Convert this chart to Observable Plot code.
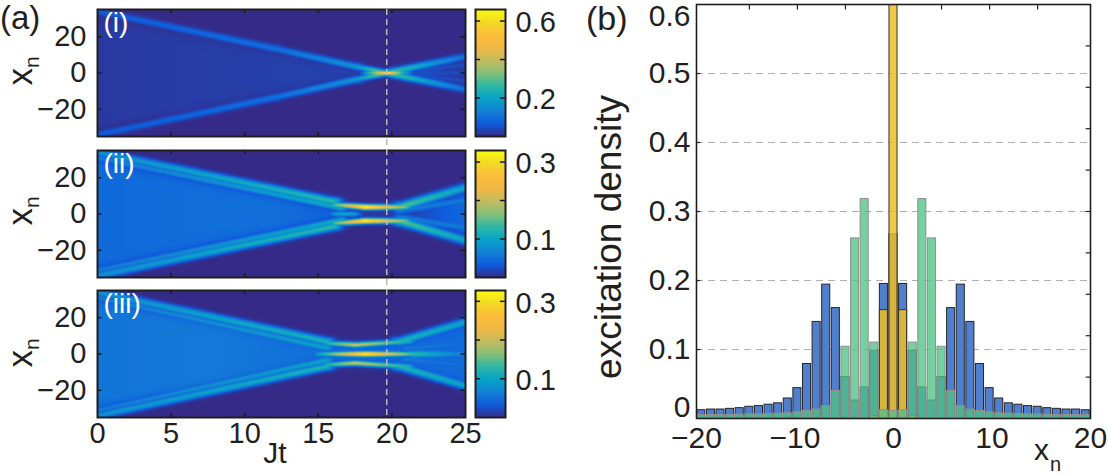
<!DOCTYPE html>
<html><head><meta charset="utf-8">
<script src="https://cdn.jsdelivr.net/npm/d3@7"></script>
<script src="https://cdn.jsdelivr.net/npm/@observablehq/plot@0.6"></script>
<style>
body{margin:0;background:#fff;}
#fig{position:relative;width:1108px;height:475px;overflow:hidden;font-family:"Liberation Sans",Arial,sans-serif;color:#231f20;}
#fig > div{position:absolute;}
#fig svg{background:transparent;overflow:visible;max-width:none;}
</style></head><body><div id="fig"></div><script>
// ---------------- DATA ----------------
// colour map (parula-like) stops
const cmapStops = [0, 0.1, 0.2, 0.3, 0.4, 0.5, 0.6, 0.7, 0.8, 0.9, 1];
const cmapColors = ["#352a87","#0f5cdd","#1481d6","#06a4ca","#2eb7a4","#87bf77","#c4bc5f","#f0b844","#fcbd3a","#f3da26","#f9fb0e"];

// panel (a) axes
const jtTicks = [0, 5, 10, 15, 20, 25];
const xnTicks = [-20, 0, 20];
const markTime = [19.65];              // dashed line, Jt
const panelNames = ["(i)", "(ii)", "(iii)"];
const cbMax = [0.66, 0.33, 0.328];
const cbTicksI = [0.2, 0.4, 0.6], cbLabelsI = [0.2, 0.6];
const cbTicksII = [0.1, 0.2, 0.3], cbLabelsII = [0.1, 0.3];
const cbTicksIII = [0.1, 0.2, 0.3], cbLabelsIII = [0.1, 0.3];

// beams: [Jt1, xn1, Jt2, xn2, value1, value2, width] (upper half; lower half mirrored)
const beamsI = [
  [0, 34, 12, 13.5, 0.065, 0.10, 1.4],
  [12, 13.5, 17.5, 3.6, 0.10, 0.17, 1.3],
  [17.5, 3.6, 19.6, 0, 0.17, 0.36, 1.1],
  [18.6, 0, 19.7, 0, 0.30, 0.66, 0.8],
  [19.7, 0, 20.8, 0, 0.66, 0.22, 0.8],
  [19.6, 0, 25, 9, 0.30, 0.10, 1.3],
  [20.6, 0, 25, 4.5, 0.05, 0.045, 1.2],
  [20.6, 0, 25, 0, 0.05, 0.04, 1.6]
];
const coneI = [[0, 31, 0.02], [16, 5, 0.03], [18, 1.5, 0.03]];

const beamsII = [
  [0, 34, 16, 7, 0.08, 0.13, 1.5],
  [0, 31, 16.5, 3.5, 0.06, 0.11, 1.4],
  [16.3, 5, 18.2, 3.8, 0.16, 0.33, 1.0],
  [18.2, 3.8, 20.8, 3.8, 0.33, 0.17, 1.0],
  [20.6, 4, 25, 14.5, 0.15, 0.10, 1.7],
  [20.6, 2, 25, 7.5, 0.06, 0.06, 1.6],
  [16.3, 0, 17.3, 0, 0.10, 0.10, 1.0]
];
const coneII = [[0, 30, 0.045], [6, 19.5, 0.048], [12, 9.5, 0.05], [16, 3, 0.04], [17, 1.5, 0.015], [21, 1.5, 0.015], [25, 12, 0.045]];

const beamsIII = [
  [0, 34, 15.5, 7, 0.08, 0.12, 1.5],
  [0, 31, 15.5, 3.5, 0.06, 0.10, 1.4],
  [15.2, 0, 18.2, 0, 0.11, 0.325, 1.0],
  [18.2, 0, 21.5, 0, 0.325, 0.13, 1.0],
  [21.5, 0, 25, 0, 0.13, 0.06, 1.5],
  [15.8, 5.8, 17.5, 5, 0.13, 0.21, 1.0],
  [17.5, 5, 21, 6.8, 0.21, 0.12, 1.0],
  [20.5, 6.8, 25, 17.5, 0.12, 0.10, 1.6],
  [21, 3, 25, 6, 0.06, 0.05, 1.5]
];
const coneIII = [[0, 30, 0.055], [8, 17, 0.058], [15, 5, 0.05], [20, 6, 0.045], [25, 16, 0.045]];

// panel (b) bars
const sites = [-20,-19,-18,-17,-16,-15,-14,-13,-12,-11,-10,-9,-8,-7,-6,-5,-4,-3,-2,-1,0,1,2,3,4,5,6,7,8,9,10,11,12,13,14,15,16,17,18,19,20];
const blueVals = [0.012,0.013,0.013,0.014,0.015,0.017,0.018,0.020,0.022,0.029,0.044,0.079,0.140,0.194,0.160,0.060,0.026,0.045,0.098,0.195,0.267,0.195,0.098,0.045,0.026,0.060,0.160,0.194,0.140,0.079,0.044,0.029,0.022,0.020,0.018,0.017,0.015,0.014,0.013,0.013,0.012];
const greenVals = [0.005,0.005,0.005,0.005,0.0055,0.006,0.006,0.0065,0.007,0.0075,0.009,0.011,0.013,0.018,0.040,0.104,0.261,0.318,0.110,0.012,0.011,0.012,0.110,0.318,0.261,0.104,0.040,0.018,0.013,0.011,0.009,0.0075,0.007,0.0065,0.006,0.006,0.0055,0.005,0.005,0.005,0.005];
const yellowVals = [0,0,0,0,0,0,0,0,0,0,0,0,0,0,0,0,0,0,0.004,0.157,0.65,0.157,0.004,0,0,0,0,0,0,0,0,0,0,0,0,0,0,0,0,0,0];
const yLabelVals = [0.1, 0.2, 0.3, 0.4, 0.5];
const yTopLabel = [0.6], yZeroLabel = [0];
const gridVals = [0.1, 0.2, 0.3, 0.4, 0.5];
const leftTickVals = [0.1, 0.2, 0.3, 0.4, 0.5];
const rightTickVals = [0.06, 0.12, 0.18, 0.24, 0.30, 0.36, 0.42, 0.48, 0.54];
const topTickSites = [-15, -10, -5, 5, 10, 15];
const xTickVals = [-20, -10, 0, 10, 20];
const siteScale = 41 / 40;  // lattice sites per x_n unit on the bottom axis

// ---------------- HELPERS ----------------
const FONT = "Liberation Sans, Arial, sans-serif";
const fmt = d => (d < 0 ? "\u2212" : "") + Math.abs(d);
const fig = document.getElementById("fig");
function place(el, left, top) {
  const div = document.createElement("div");
  div.style.left = left + "px"; div.style.top = top + "px";
  div.appendChild(el); fig.appendChild(div);
}
function colorScale(max) {
  return {type: "linear", domain: cmapStops.map(s => s * max), range: cmapColors, clamp: true, interpolate: "rgb"};
}
function withMirror(beams) {
  const out = [];
  for (const b of beams) {
    out.push(b);
    if (b[1] !== 0 || b[3] !== 0) out.push([b[0], -b[1], b[2], -b[3], b[4], b[5], b[6]]);
  }
  return out;
}
function coneAt(cone, t, x) {
  if (t < cone[0][0] || t > cone[cone.length - 1][0]) return 0;
  let i = 0;
  while (i < cone.length - 2 && t > cone[i + 1][0]) i++;
  const a = cone[i], b = cone[i + 1];
  const s = b[0] === a[0] ? 0 : (t - a[0]) / (b[0] - a[0]);
  const half = a[1] + s * (b[1] - a[1]);
  const val = a[2] + s * (b[2] - a[2]);
  return val / (1 + Math.exp((Math.abs(x) - half) / 1.2));
}
function field(beamsHalf, cone) {
  const beams = withMirror(beamsHalf);
  return (t, x) => {
    let v = coneAt(cone, t, x);
    for (const [t1, x1, t2, x2, v1, v2, w] of beams) {
      const s = Math.max(0, Math.min(1, (t - t1) / (t2 - t1)));
      const tc = t1 + s * (t2 - t1), xc = x1 + s * (x2 - x1), vv = v1 + s * (v2 - v1);
      const dt = (t - tc) / 0.4, dx = (x - xc) / w;
      const val = vv * Math.exp(-0.5 * (dx * dx + dt * dt));
      if (val > v) v = val;
    }
    return v;
  };
}

// ---------------- PANEL (a) ----------------
const panels = [
  {top: 9, beams: beamsI, cone: coneI, max: cbMax[0], ticks: cbTicksI, labels: cbLabelsI, name: panelNames[0]},
  {top: 150, beams: beamsII, cone: coneII, max: cbMax[1], ticks: cbTicksII, labels: cbLabelsII, name: panelNames[1]},
  {top: 290, beams: beamsIII, cone: coneIII, max: cbMax[2], ticks: cbTicksIII, labels: cbLabelsIII, name: panelNames[2]}
];
const H = 127;
panels.forEach((p, k) => {
  const last = k === 2;
  const mt = 2, mb = last ? 60 : 3;
  const hm = Plot.plot({
    width: 470, height: H + mt + mb,
    marginLeft: 97, marginRight: 5, marginTop: mt, marginBottom: mb,
    style: {fontFamily: FONT, color: "#231f20", background: "transparent", overflow: "visible"},
    x: {domain: [0, 25], axis: null},
    y: {domain: [-35, 35], axis: null},
    color: colorScale(p.max),
    marks: [
      Plot.raster({fill: field(p.beams, p.cone), x1: 0, x2: 25, y1: -35, y2: 35}),
      Plot.ruleY(xnTicks, {x1: 0, x2: 0.3, stroke: "#1a1a1a", strokeWidth: 1.5}),
      Plot.ruleY(xnTicks, {x1: 24.7, x2: 25, stroke: "#1a1a1a", strokeWidth: 1.5}),
      Plot.ruleX(jtTicks.slice(1, 5), {y1: -35, y2: -32.8, stroke: "#1a1a1a", strokeWidth: 1.5}),
      Plot.ruleX(jtTicks.slice(1, 5), {y1: 32.8, y2: 35, stroke: "#1a1a1a", strokeWidth: 1.5}),
      Plot.frame({stroke: "#1e1e1e", strokeWidth: 2}),
      Plot.text(xnTicks, {y: d => d, text: fmt, frameAnchor: "left", textAnchor: "end", dx: -11, fontSize: 29, fill: "#231f20"}),
      last ? Plot.text(jtTicks, {x: d => d, text: fmt, frameAnchor: "bottom", lineAnchor: "top", dy: 5, fontSize: 29, fill: "#231f20"}) : null,
      Plot.text([p.name], {frameAnchor: "top-left", textAnchor: "start", lineAnchor: "top", dx: 6, dy: 3, fill: "white", fontSize: 28})
    ]
  });
  place(hm, 0, p.top - mt);

  const cb = Plot.plot({
    width: 95, height: H + 4,
    marginLeft: 3, marginRight: 62, marginTop: 2, marginBottom: 2,
    style: {fontFamily: FONT, color: "#231f20", background: "transparent", overflow: "visible"},
    x: {domain: [0, 1], axis: null},
    y: {domain: [0, p.max], axis: null},
    color: colorScale(p.max),
    marks: [
      Plot.raster({fill: (x, y) => y, x1: 0, x2: 1, y1: 0, y2: p.max}),
      Plot.ruleY(p.ticks, {x1: 0, x2: 0.17, stroke: "#1a1a1a", strokeWidth: 1.5}),
      Plot.ruleY(p.ticks, {x1: 0.83, x2: 1, stroke: "#1a1a1a", strokeWidth: 1.5}),
      Plot.frame({stroke: "#1e1e1e", strokeWidth: 2}),
      Plot.text(p.labels, {y: d => d, text: d => String(d), frameAnchor: "right", textAnchor: "start", dx: 10, dy: 2, fontSize: 29, fill: "#231f20"})
    ]
  });
  place(cb, 472, p.top - 2);
});

// dashed time marker across the three maps
const marker = Plot.plot({
  width: 368, height: 408, margin: 0,
  style: {background: "transparent", overflow: "visible"},
  x: {domain: [0, 25], axis: null}, y: {domain: [0, 1], axis: null},
  marks: [Plot.ruleX(markTime, {stroke: "#b9b9b9", strokeWidth: 1.5, strokeDasharray: "6,4"})]
});
place(marker, 97, 9);

// ---------------- PANEL (b) ----------------
const rows = vals => sites.map((n, i) => ({n, v: vals[i]})).filter(d => d.v > 0);
const halfW = 0.42;
const bars = (vals, opts) => Plot.rect(rows(vals), {x1: d => d.n - halfW, x2: d => d.n + halfW, y1: 0, y2: "v", ...opts});
const pb = Plot.plot({
  width: 468, height: 475,
  marginLeft: 56, marginRight: 18, marginTop: 4, marginBottom: 57,
  style: {fontFamily: FONT, color: "#231f20", background: "transparent", overflow: "visible"},
  x: {domain: [-20.5, 20.5], axis: null},
  y: {domain: [0, 0.6], axis: null},
  marks: [
    Plot.ruleY(gridVals, {stroke: "#b0b0b0", strokeWidth: 1.2, strokeDasharray: "7,5"}),
    bars(blueVals, {fill: "#5080cd", stroke: "#262626", strokeWidth: 1}),
    bars(yellowVals, {fill: "#edbd27", fillOpacity: 0.85, stroke: "#333", strokeWidth: 1, clip: true}),
    bars(greenVals, {fill: "#4ec284", fillOpacity: 0.77, stroke: "#8f8f8f", strokeWidth: 1}),
    Plot.ruleY(leftTickVals, {x1: -20.5, x2: -20.05, stroke: "#222", strokeWidth: 1.2}),
    Plot.ruleY(rightTickVals, {x1: 20.05, x2: 20.5, stroke: "#222", strokeWidth: 1.2}),
    Plot.ruleX(topTickSites, {y1: 0.592, y2: 0.6, stroke: "#222", strokeWidth: 1.2}),
    Plot.frame({stroke: "#1e1e1e", strokeWidth: 1.6}),
    Plot.text(yLabelVals, {y: d => d, text: d => d.toFixed(1), frameAnchor: "left", textAnchor: "end", dx: -6, fontSize: 30, fill: "#231f20"}),
    Plot.text(yTopLabel, {y: d => d, text: d => d.toFixed(1), frameAnchor: "left", textAnchor: "end", dx: -6, dy: 12, fontSize: 30, fill: "#231f20"}),
    Plot.text(yZeroLabel, {y: d => d, text: d => String(d), frameAnchor: "left", textAnchor: "end", dx: -6, dy: -11, fontSize: 30, fill: "#231f20"}),
    Plot.text(xTickVals, {x: d => d * siteScale, text: fmt, frameAnchor: "bottom", lineAnchor: "top", dy: 8, fontSize: 30, fill: "#231f20"})
  ]
});
place(pb, 640, 0);

// ---------------- TEXT LABELS ----------------
const ov = d3.create("svg").attr("width", 1108).attr("height", 475)
  .style("font-family", FONT).style("fill", "#231f20").style("pointer-events", "none");
ov.append("text").attr("x", 0).attr("y", 29).attr("font-size", 33).text("(a)");
ov.append("text").attr("x", 586).attr("y", 30).attr("font-size", 34).text("(b)");
[71, 211, 353].forEach(cy => {
  const t = ov.append("text").attr("transform", `translate(32,${cy}) rotate(-90)`).attr("text-anchor", "middle").attr("font-size", 35);
  t.append("tspan").text("x");
  t.append("tspan").attr("font-size", 21).attr("dy", 7).text("n");
});
ov.append("text").attr("x", 275).attr("y", 463).attr("text-anchor", "middle").attr("font-size", 30).text("Jt");
ov.append("text").attr("transform", "translate(621,237) rotate(-90)").attr("text-anchor", "middle").attr("font-size", 37).text("excitation density");
ov.append("text").attr("x", 1034).attr("y", 460).attr("font-size", 30).text("x");
ov.append("text").attr("x", 1050).attr("y", 471).attr("font-size", 20).text("n");
place(ov.node(), 0, 0);
</script></body></html>
